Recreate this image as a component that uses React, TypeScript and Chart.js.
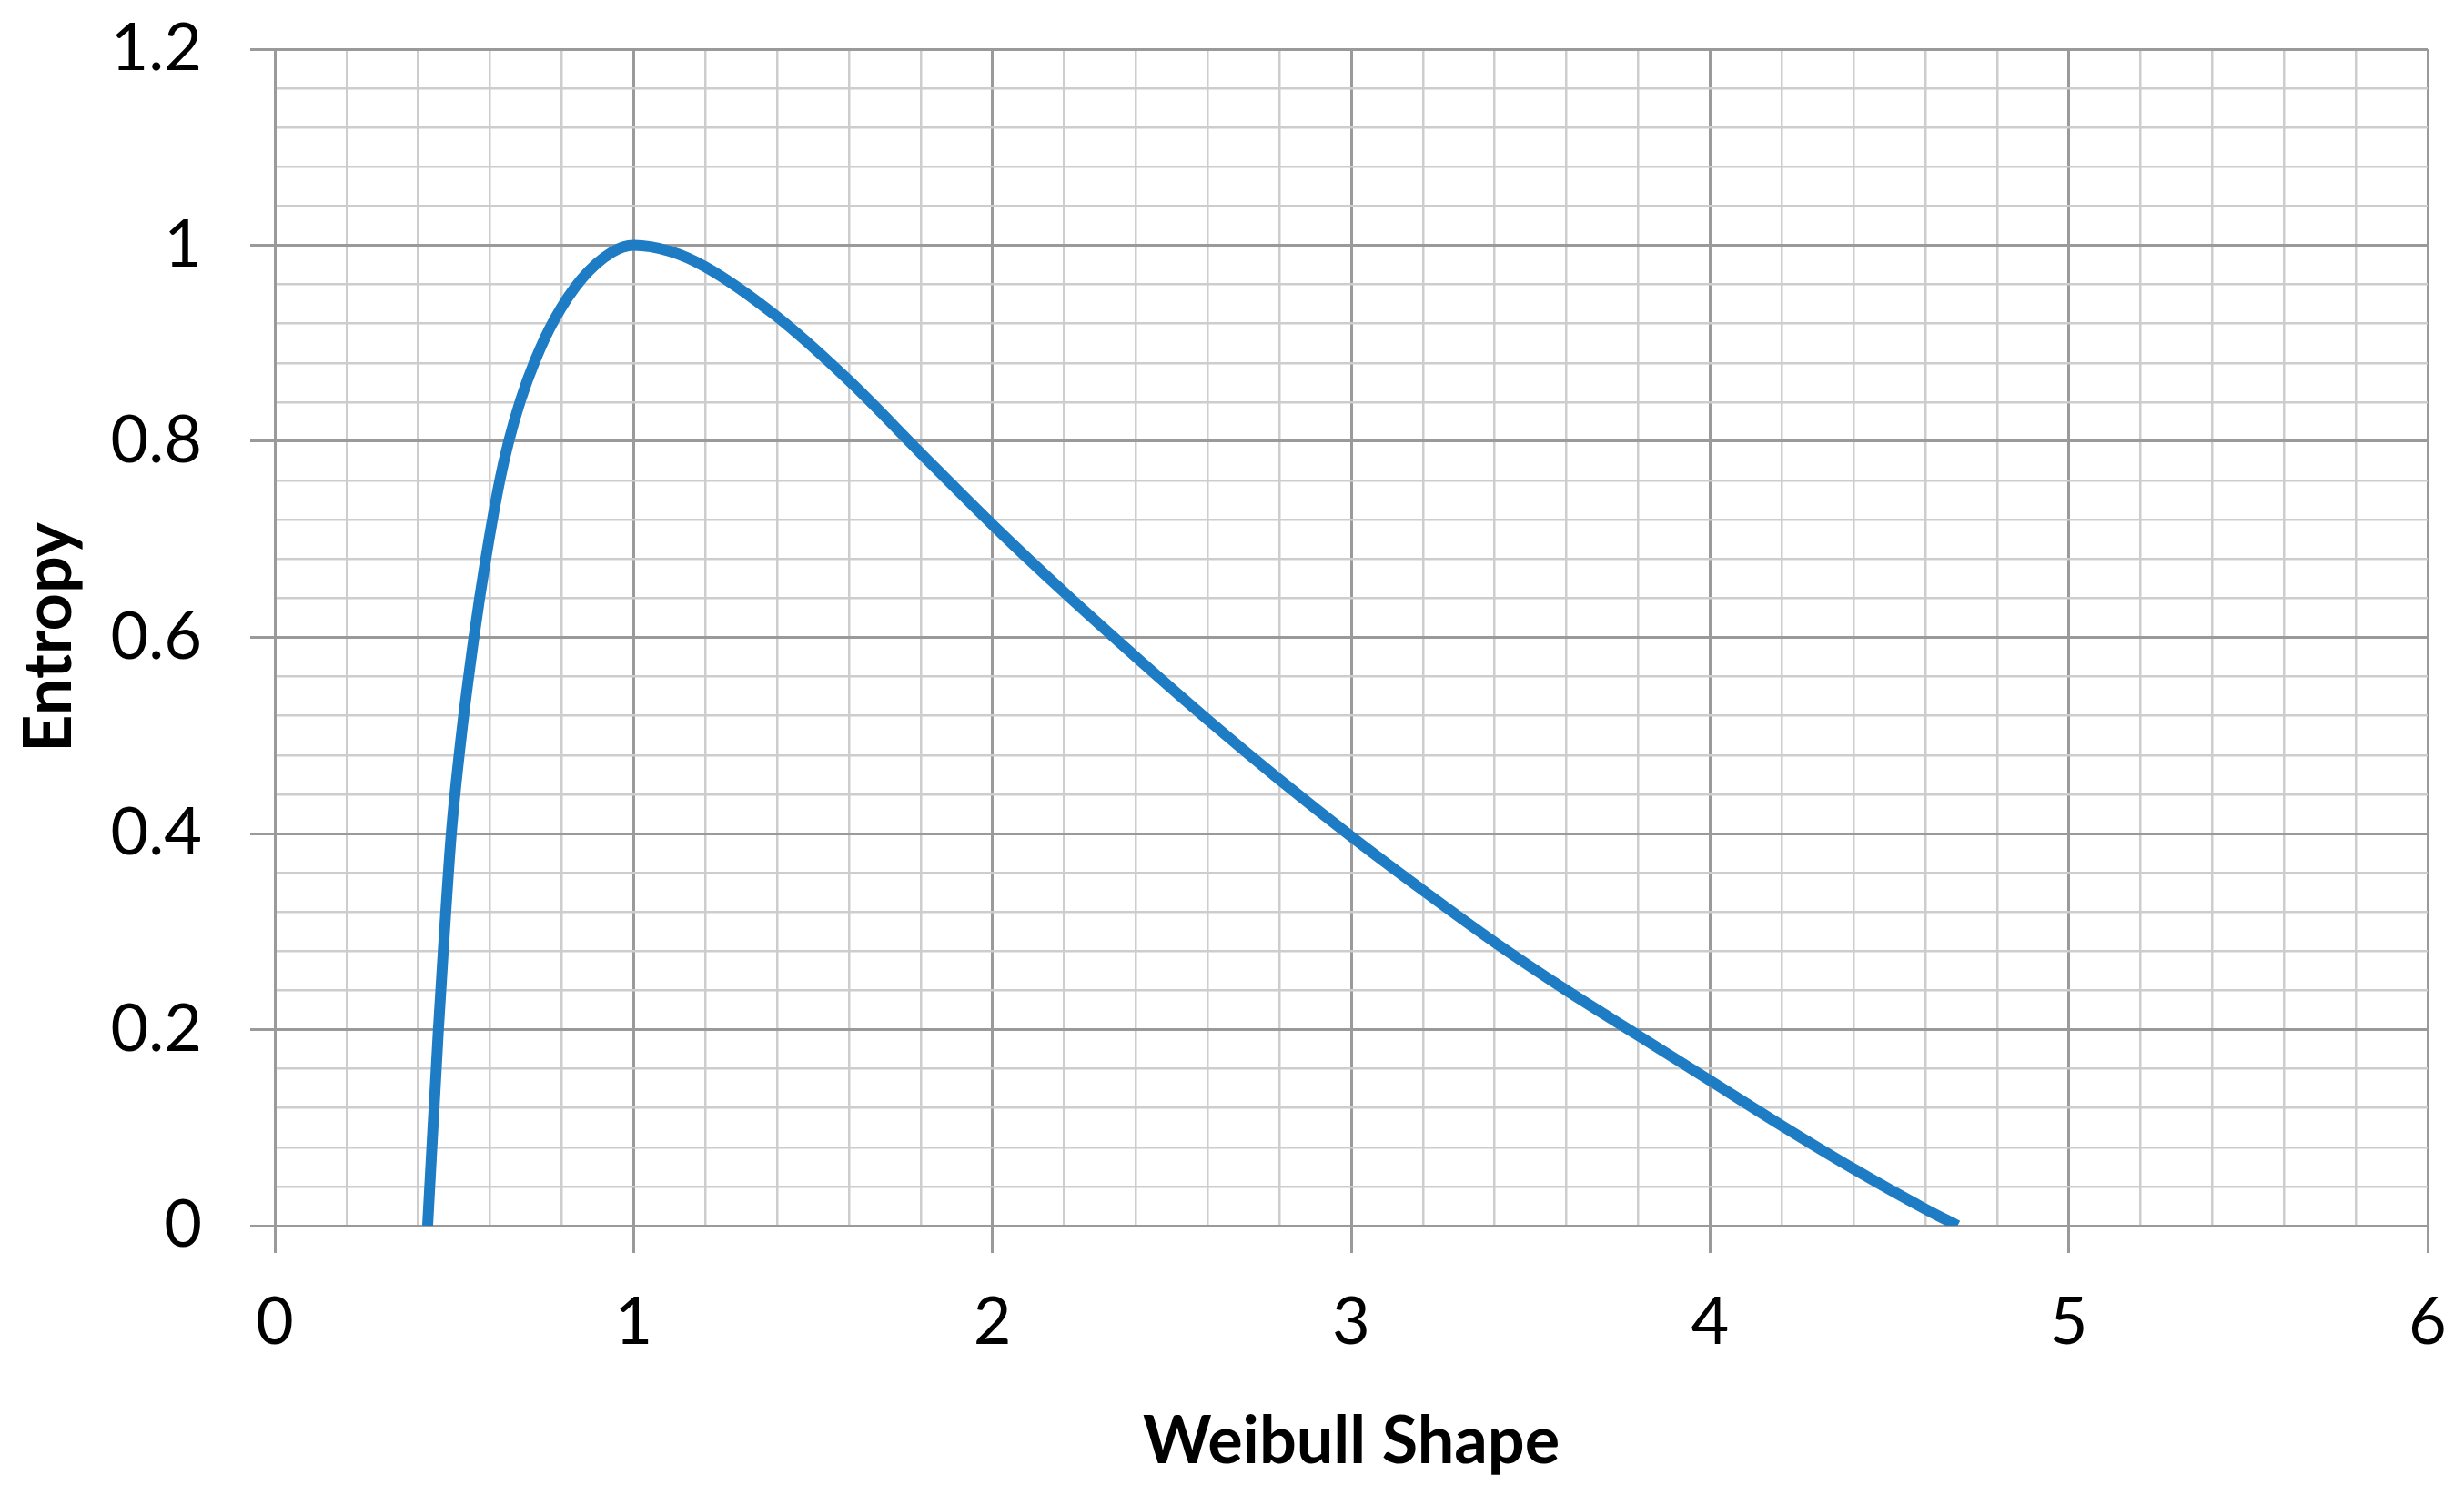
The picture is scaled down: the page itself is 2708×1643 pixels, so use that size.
import React, { useEffect, useRef } from "react";
import { Chart, registerables } from "chart.js";

Chart.register(...registerables);

const shapeValues = [0.426, 0.456, 0.473, 0.492, 0.52, 0.555, 0.588, 0.627, 0.652, 0.685, 0.725, 0.779, 0.856, 0.94, 1.0, 1.1, 1.2, 1.4, 1.6, 1.8, 2.0, 2.2, 2.4, 2.6, 2.8, 3.0, 3.2, 3.4, 3.6, 3.8, 4.0, 4.2, 4.4, 4.6, 4.69];
const entropyValues = [0, 0.2, 0.3, 0.4, 0.5, 0.6, 0.68, 0.76, 0.8, 0.842, 0.882, 0.924, 0.966, 0.993, 1.0, 0.994, 0.978, 0.927, 0.862, 0.788, 0.715, 0.646, 0.58, 0.516, 0.455, 0.397, 0.342, 0.289, 0.24, 0.194, 0.148, 0.102, 0.058, 0.017, 0];

const xTickLabels = ["0", "1", "2", "3", "4", "5", "6"];
const yTickLabels = ["0", "0.2", "0.4", "0.6", "0.8", "1", "1.2"];

const xTitle = "Weibull Shape";
const yTitle = "Entropy";

const MAJOR = "#9a9a9a";
const MINOR = "#cdcdcd";
const FONT = 'Lato, "Open Sans", sans-serif';

function majorIndex(v: number, step: number): number {
  const r = v / step;
  const k = Math.round(r);
  return Math.abs(r - k) < 1e-6 ? k : -1;
}

function zeroPadding(s: any) {
  s.paddingTop = 0;
  s.paddingBottom = 0;
  s.paddingLeft = 0;
  s.paddingRight = 0;
}

export default function App() {
  const ref = useRef<HTMLCanvasElement | null>(null);

  useEffect(() => {
    document.body.style.margin = "0";
    if (!ref.current) return;
    const points = shapeValues.map((x, i) => ({ x, y: entropyValues[i] }));
    const chart = new Chart(ref.current, {
      type: "line",
      data: {
        datasets: [
          {
            data: points,
            borderColor: "#1d7cc4",
            borderWidth: 12,
            pointRadius: 0,
            fill: false,
            cubicInterpolationMode: "monotone",
            borderCapStyle: "butt",
          },
        ],
      },
      options: {
        animation: false,
        responsive: true,
        maintainAspectRatio: false,
        layout: { padding: { top: 54, right: 40, left: 0, bottom: 0 } },
        plugins: { legend: { display: false }, tooltip: { enabled: false } },
        scales: {
          x: {
            type: "linear",
            min: 0,
            max: 6,
            afterFit: (s: any) => {
              s.height = 1643 - 1347;
              zeroPadding(s);
            },
            ticks: {
              stepSize: 0.2,
              autoSkip: false,
              maxRotation: 0,
              padding: 34,
              color: "#000",
              font: { family: FONT, size: 72 },
              callback: (v: any) => {
                const k = majorIndex(Number(v), 1);
                return k >= 0 ? xTickLabels[k] : "";
              },
            },
            grid: {
              color: (c: any) => (majorIndex(c.tick.value, 1) >= 0 ? MAJOR : MINOR),
              lineWidth: (c: any) => (majorIndex(c.tick.value, 1) >= 0 ? 3 : 2.5),
              tickColor: (c: any) => (majorIndex(c.tick.value, 1) >= 0 ? MAJOR : "rgba(0,0,0,0)"),
              tickLength: 30,
              tickWidth: 3,
            },
            border: { color: MAJOR, width: 3 },
            title: {
              display: true,
              text: xTitle,
              color: "#000",
              font: { family: FONT, size: 72, weight: "bold" },
              padding: { top: 0, bottom: 15 },
            },
          },
          y: {
            type: "linear",
            min: 0,
            max: 1.2,
            afterFit: (s: any) => {
              s.width = 302;
              zeroPadding(s);
            },
            ticks: {
              stepSize: 0.04,
              autoSkip: false,
              padding: 53,
              color: "#000",
              font: { family: FONT, size: 72 },
              callback: (v: any) => {
                const k = majorIndex(Number(v), 0.2);
                return k >= 0 ? yTickLabels[k] : "";
              },
            },
            grid: {
              color: (c: any) => (majorIndex(c.tick.value, 0.2) >= 0 ? MAJOR : MINOR),
              lineWidth: (c: any) => (majorIndex(c.tick.value, 0.2) >= 0 ? 3 : 2.5),
              tickColor: (c: any) => (majorIndex(c.tick.value, 0.2) >= 0 ? MAJOR : "rgba(0,0,0,0)"),
              tickLength: 27,
              tickWidth: 3,
            },
            border: { color: MAJOR, width: 3 },
            title: {
              display: true,
              text: yTitle,
              color: "#000",
              font: { family: FONT, size: 72, weight: "bold" },
              padding: { top: 12, bottom: 0 },
            },
          },
        },
      },
    } as any);
    return () => chart.destroy();
  }, []);

  return (
    <div style={{ width: 2708, height: 1643, position: "relative", background: "#fff" }}>
      <canvas ref={ref} />
    </div>
  );
}
